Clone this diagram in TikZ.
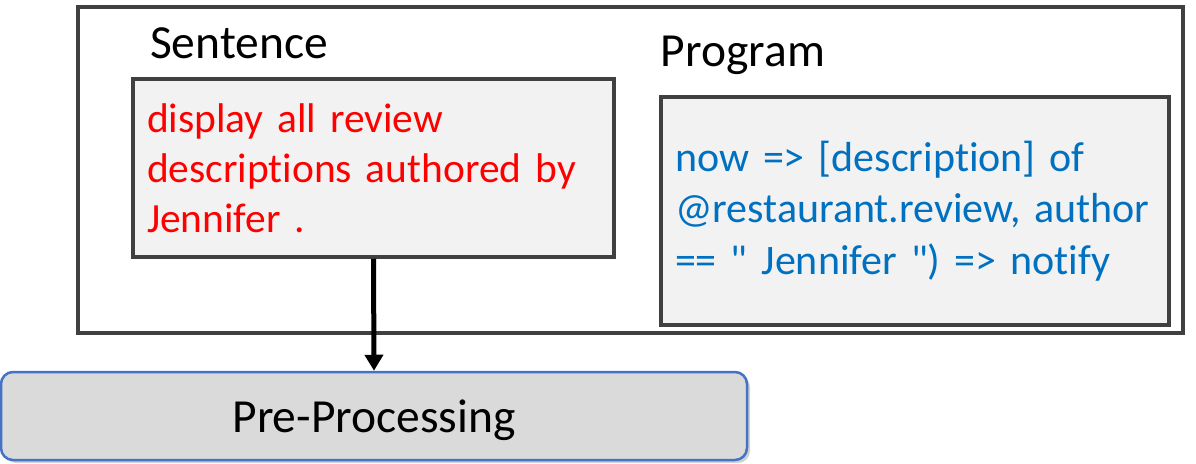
\documentclass[tikz,border=0pt]{standalone}
\usepackage{fontspec}
\setmainfont{Carlito}[Ligatures={NoCommon}]
\usepackage{xcolor}
\usetikzlibrary{arrows.meta, positioning, shadows}
\definecolor{SentRed}{HTML}{FF0000}
\definecolor{ProgBlue}{HTML}{0070C0}
\definecolor{FrameGray}{HTML}{404040}
\definecolor{BoxFill}{HTML}{F2F2F2}
\definecolor{StepFill}{HTML}{DADADA}
\definecolor{StepBlue}{HTML}{4472C4}
\tikzset{
  frame box/.style={rectangle, draw=FrameGray, line width=3.5pt, inner sep=0pt},
  data box/.style={rectangle, draw=FrameGray, fill=BoxFill, line width=3.5pt,
                   inner sep=14pt, align=left, anchor=center},
  head text/.style={inner sep=0pt, font=\fontsize{47.5}{56}\selectfont},
  stage box/.style={rectangle, rounded corners=12pt, draw=StepBlue, fill=StepFill,
                    line width=2.5pt, inner sep=0pt,
                    drop shadow={shadow xshift=3pt, shadow yshift=-3pt, fill=black!35},
                    font=\fontsize{47.5}{56}\selectfont},
  flow edge/.style={-{Triangle[length=16pt, width=18pt]}, line width=5pt},
}
\begin{document}
\begin{tikzpicture}[x=1pt, y=-1pt]
  \useasboundingbox (0,0) rectangle (1196,463);
  \node[frame box, minimum width=1105pt, minimum height=326pt] (frame) at (630.5,170) {};
  \node[head text] (sent label) at (239,43) {Sentence};
  \node[head text] (prog label) at (743,55) {Program};
  \node[data box, minimum width=481pt, minimum height=178pt, text width=453pt,
        text=SentRed, font=\fontsize{41.5}{50}\selectfont] (sent) at (373.5,168)
    {display all review\\descriptions authored by\\Jennifer .};
  \node[data box, minimum width=506pt, minimum height=228pt, text width=480pt,
        text=ProgBlue, font=\fontsize{42}{51.5}\selectfont] (prog) at (915,211)
    {now => [description] of\\@restaurant.review, author\\== \textquotedbl{} Jennifer \textquotedbl{}) => notify};
  \node[stage box, minimum width=746pt, minimum height=88pt] (pre) at (374,416) {};
  \node[inner sep=0pt, font=\fontsize{47.5}{56}\selectfont] (pre text) at (374,420) {Pre-Processing};
  \draw[flow edge] (sent.south) -- (pre.north);
\end{tikzpicture}
\end{document}
